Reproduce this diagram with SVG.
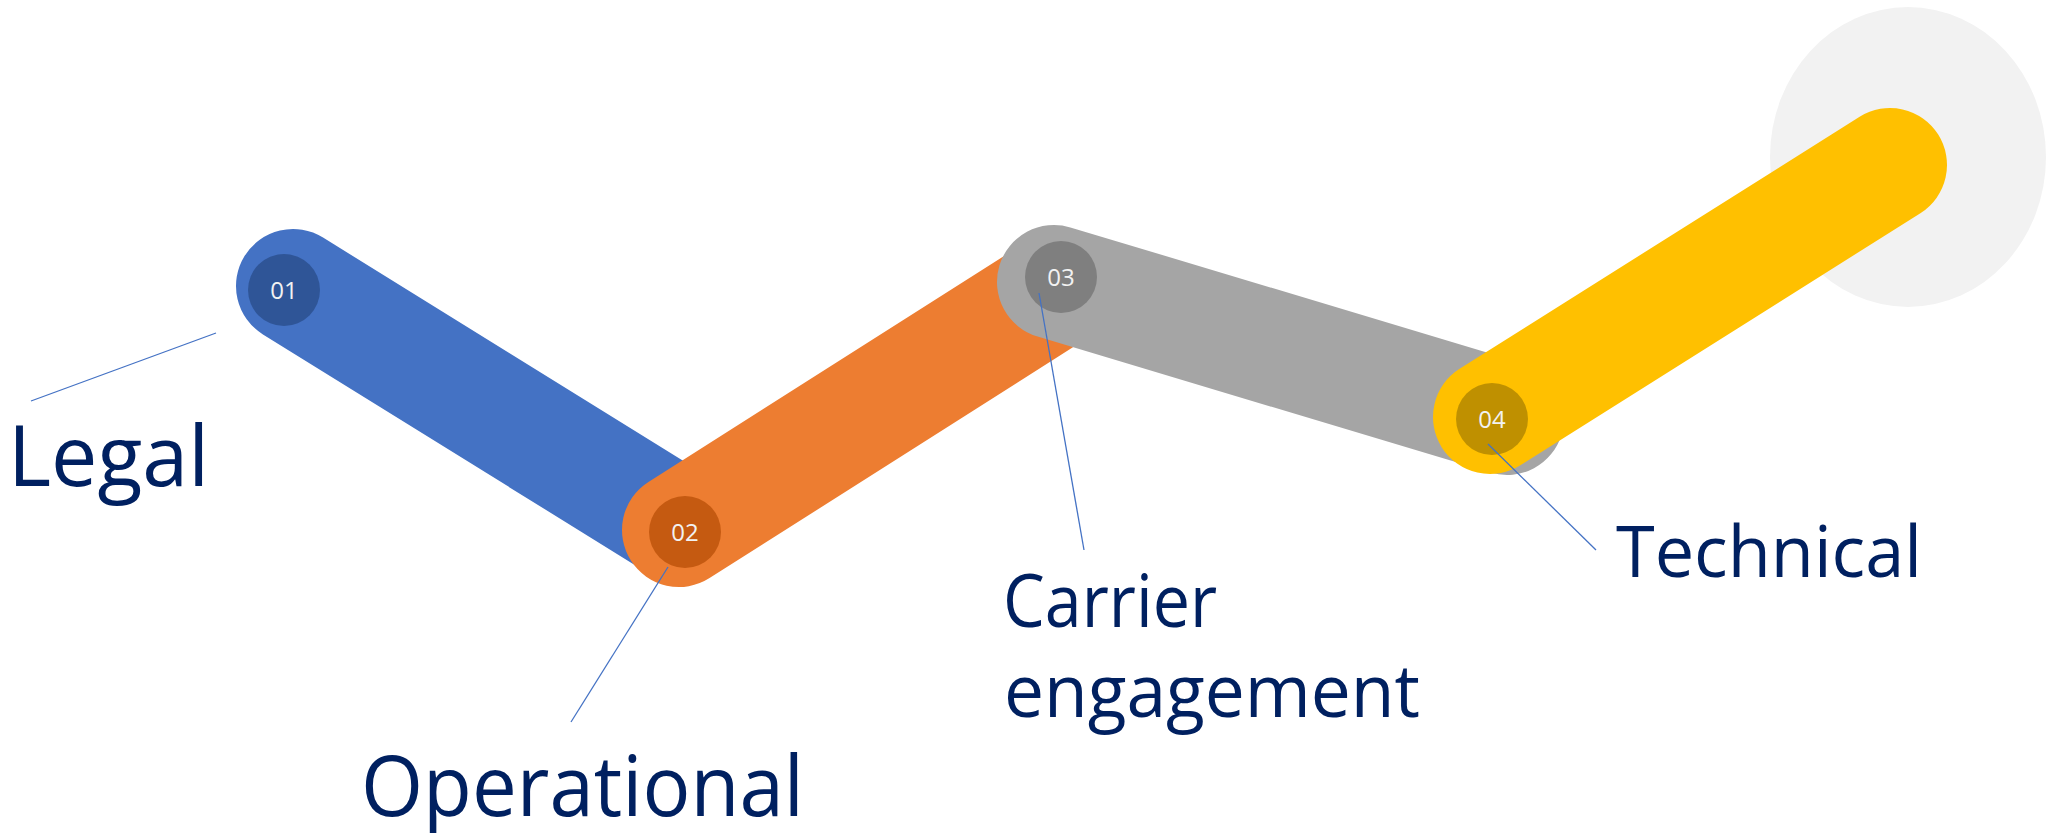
<svg xmlns="http://www.w3.org/2000/svg" width="2048" height="833" viewBox="0 0 2048 833">
<style>
.bar{fill:none;stroke-width:114;stroke-linecap:round}
.num{font-family:"Open Sans","Noto Sans",sans-serif;font-size:24px;fill:#F2F2F2;text-anchor:middle}
.lbl{font-family:"Open Sans","Noto Sans",sans-serif;fill:#002060}
.conn{stroke:#4472C4;stroke-width:1.3;fill:none}
</style>
<rect width="2048" height="833" fill="#FFFFFF"/>
<ellipse id="halo" cx="1908" cy="157" rx="138" ry="150" fill="#F2F2F2"/>
<g id="bar-legal">
<line class="bar" x1="293" y1="286" x2="672" y2="521" stroke="#4472C4"/>
</g>
<g id="bar-operational">
<line class="bar" x1="679" y1="530" x2="1060" y2="288" stroke="#ED7D31"/>
</g>
<g id="bar-carrier">
<line class="bar" x1="1054" y1="282" x2="1507" y2="418" stroke="#A5A5A5"/>
</g>
<g id="bar-technical">
<line class="bar" x1="1490" y1="417" x2="1890" y2="165" stroke="#FFC000"/>
</g>
<g id="node-01">
<circle cx="284" cy="290" r="36" fill="#2F5597"/>
<text class="num" x="284" y="298.5">01</text>
</g>
<g id="node-02">
<circle cx="685" cy="532" r="36" fill="#C55A11"/>
<text class="num" x="685" y="540.5">02</text>
</g>
<g id="node-03">
<circle cx="1061" cy="277" r="36" fill="#7F7F7F"/>
<text class="num" x="1061" y="285.5">03</text>
</g>
<g id="node-04">
<circle cx="1492" cy="419" r="36" fill="#BF9000"/>
<text class="num" x="1492" y="427.5">04</text>
</g>
<g id="connectors">
<line class="conn" x1="31" y1="401" x2="216" y2="333"/>
<line class="conn" x1="668" y1="567" x2="571" y2="722"/>
<line class="conn" x1="1039" y1="293" x2="1084" y2="550"/>
<line class="conn" x1="1488" y1="444" x2="1596" y2="550"/>
</g>
<g id="label-legal">
<text class="lbl" x="8" y="486" font-size="85" textLength="201" lengthAdjust="spacingAndGlyphs">Legal</text>
</g>
<g id="label-operational">
<text class="lbl" x="361" y="816" font-size="84" textLength="443" lengthAdjust="spacingAndGlyphs">Operational</text>
</g>
<g id="label-carrier">
<text class="lbl" x="1003" y="627" font-size="74" textLength="214" lengthAdjust="spacingAndGlyphs">Carrier</text>
<text class="lbl" x="1004" y="717" font-size="74" textLength="416" lengthAdjust="spacingAndGlyphs">engagement</text>
</g>
<g id="label-technical">
<text class="lbl" x="1616" y="577" font-size="72" textLength="306" lengthAdjust="spacingAndGlyphs">Technical</text>
</g>
</svg>
